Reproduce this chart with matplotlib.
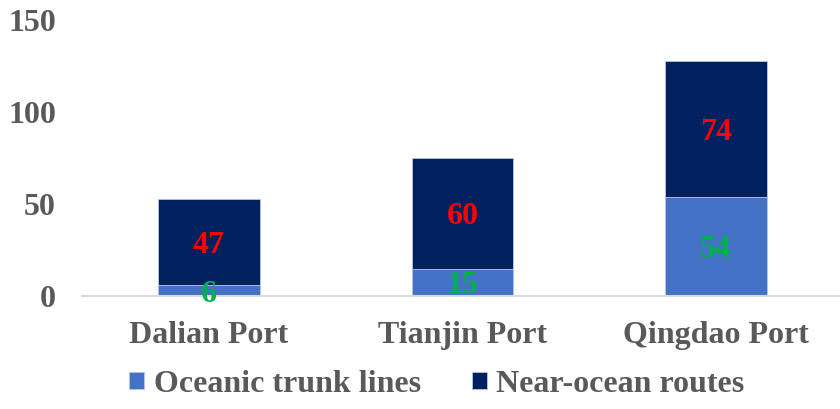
import numpy as np
import matplotlib.pyplot as plt

plt.rcParams['font.family'] = ['Liberation Serif', 'DejaVu Serif']
plt.rcParams['font.weight'] = 'bold'

ports = ['Dalian Port', 'Tianjin Port', 'Qingdao Port']
oceanic = [6, 15, 54]
near_ocean = [47, 60, 74]
yticks = [0, 50, 100, 150]

fig = plt.figure(figsize=(8.4, 4.09), dpi=100)
ax = fig.add_axes([0.098, 0.276, 0.905, 0.675])

x = np.arange(len(ports))
b1 = ax.bar(x, oceanic, width=0.4, color='#4472C4', edgecolor='#B4C7E7', linewidth=0.6,
            label='Oceanic trunk lines')
b2 = ax.bar(x, near_ocean, width=0.4, bottom=oceanic, color='#002060', edgecolor='#B4C7E7',
            linewidth=0.6, label='Near-ocean routes')

for i in range(len(ports)):
    ax.text(x[i], oceanic[i] / 2, str(oceanic[i]), ha='center', va='center_baseline',
            color='#00B050', fontsize=23, fontweight='bold')
    ax.text(x[i], oceanic[i] + near_ocean[i] / 2, str(near_ocean[i]), ha='center',
            va='center_baseline', color='#FF0000', fontsize=23, fontweight='bold')

ax.set_xlim(-0.5, 2.5)
ax.set_ylim(0, 150)
ax.set_yticks(yticks)
ax.set_xticks(x)
ax.set_xticklabels(ports)
ax.tick_params(axis='both', length=0, labelsize=23, colors='#595959')
ax.tick_params(axis='y', pad=19)
ax.tick_params(axis='x', pad=18)
for s in ['top', 'right', 'left']:
    ax.spines[s].set_visible(False)
ax.spines['bottom'].set_color('#D9D9D9')
ax.spines['bottom'].set_linewidth(1.5)

leg = fig.legend(handles=[b1, b2], loc='center', bbox_to_anchor=(0.52, 0.06), ncol=2,
                 frameon=False, fontsize=23, handlelength=0.47, handleheight=0.47,
                 handletextpad=0.3, columnspacing=1.6, labelcolor='#595959')

fig.savefig('out.png', dpi=100)
